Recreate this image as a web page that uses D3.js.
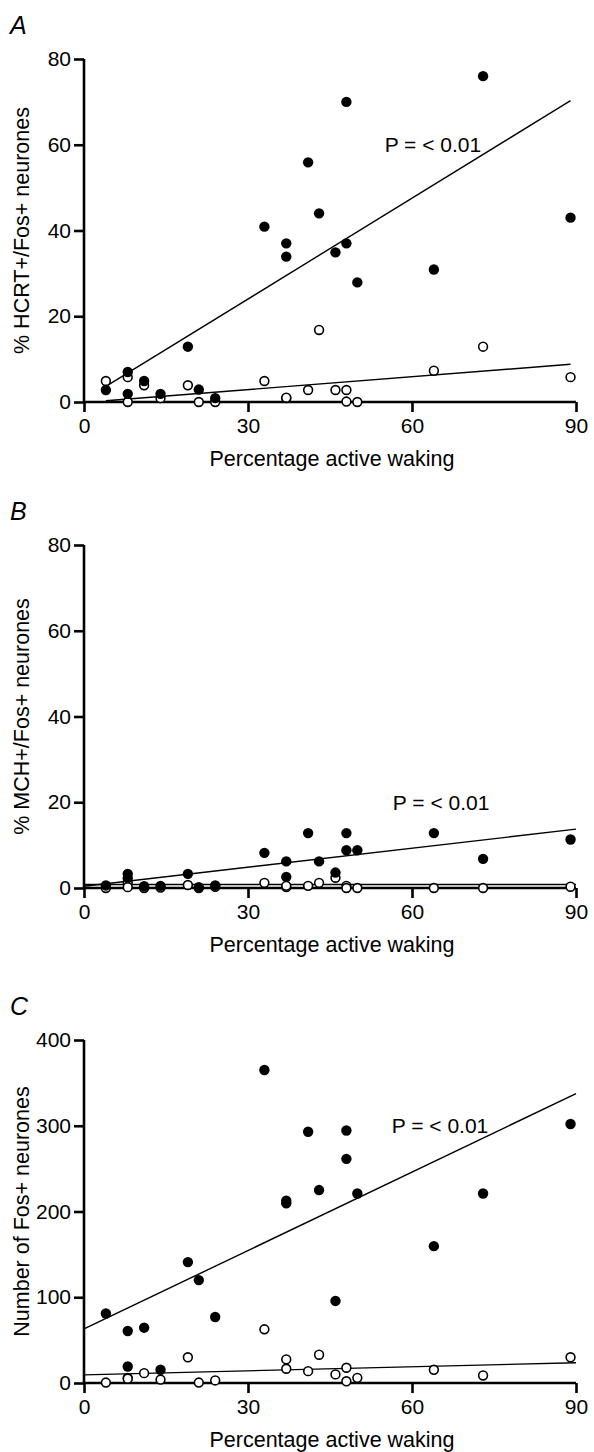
<!DOCTYPE html>
<html>
<head>
<meta charset="utf-8">
<script src="https://cdn.jsdelivr.net/npm/d3@7"></script>
<style>
    body { margin: 0; background: #fff; }
    text { font-family: "Liberation Sans", Arial, sans-serif; fill: #000; }
    .axis path, .axis line { stroke: #000; stroke-width: 2.6px; }
</style>
</head>
<body>
<div class="graph_container"></div>
<script>
//^ DATA //
const wakePct = [4, 8, 8, 11, 14, 19, 21, 24, 33, 37, 37, 41, 43, 46, 48, 48, 50, 64, 73, 89];

const hcrtFilled = [2.8, 7, 1.9, 4.9, 1.9, 12.9, 2.9, 0.9, 40.9, 37, 33.9, 55.9, 44, 34.9, 70, 37, 27.9, 30.9, 76, 43];
const hcrtOpen = [4.9, 5.8, 0, 3.9, 0.9, 3.9, 0, 0, 4.9, 0.9, 1, 2.8, 16.8, 2.8, 2.8, 0.1, 0, 7.3, 12.9, 5.8];

const mchFilled = [0.6, 3.3, 2.3, 0.4, 0.5, 3.3, 0.2, 0.6, 8.2, 6.2, 2.6, 12.8, 6.2, 3.6, 12.8, 8.8, 8.8, 12.8, 6.8, 11.3];
const mchOpen = [0, 1.2, 0.2, 0, 0.1, 0.7, 0, 0.3, 1.2, 0.2, 0.5, 0.5, 1.2, 2.4, 0.5, 0, 0, 0, 0, 0.3];

const fosFilled = [81, 60.6, 19.3, 64.5, 15.4, 141, 120, 77, 365, 212.6, 209.5, 293, 225, 95.7, 294.5, 261.4, 221, 159.6, 221, 302];
const fosOpen = [0.5, 6, 5, 11.5, 4, 30, 0.5, 3, 62.6, 27.5, 16.6, 13.8, 33, 10, 17.8, 2, 6, 15.4, 8.8, 30];

// regression lines: [intercept, slope] and x span
const fitHcrtFilled = [0.5, 0.784];
const fitHcrtOpen = [-0.1, 0.1];
const fitMchFilled = [0.4, 0.148];
const fitMchOpen = [0.8, 0];
const fitFosFilled = [63, 3.05];
const fitFosOpen = [9.5, 0.157];
const spanA = [4, 89];
const spanBC = [0, 90];

//^ TICKS AND LABELS //
const xTicks = [0, 30, 60, 90];
const pctTicks = [0, 20, 40, 60, 80];
const countTicks = [0, 100, 200, 300, 400];
const panelLetters = ["A", "B", "C"];
const yTitles = ["% HCRT+/Fos+ neurones", "% MCH+/Fos+ neurones", "Number of Fos+ neurones"];
const xTitle = "Percentage active waking";
const pLabel = "P = < 0.01";
const pLabelAt = [[55, 58.3], [56.5, 18.1], [56.3, 291.5]];

//^ DIMENSIONS //
const fullWidth = 594;
const fullHeight = 1452;
const marginLeft = 84;
const plotWidth = 492;
const plotHeight = 343;
const panelTops = [59, 545, 1040];

const svg = d3.select(".graph_container")
    .append("svg")
    .attr("width", fullWidth)
    .attr("height", fullHeight);

const panels = [
    { filled: hcrtFilled, open: hcrtOpen, fits: [fitHcrtFilled, fitHcrtOpen], span: spanA, yMax: 80, yTicks: pctTicks },
    { filled: mchFilled, open: mchOpen, fits: [fitMchFilled, fitMchOpen], span: spanBC, yMax: 80, yTicks: pctTicks },
    { filled: fosFilled, open: fosOpen, fits: [fitFosFilled, fitFosOpen], span: spanBC, yMax: 400, yTicks: countTicks }
];

panels.forEach((p, i) => {
    const g = svg.append("g").attr("transform", "translate(" + marginLeft + "," + panelTops[i] + ")");

    const xScale = d3.scaleLinear().domain([0, 90]).range([0, plotWidth]);
    const yScale = d3.scaleLinear().domain([0, p.yMax]).range([plotHeight, 0]);

    //^ AXES //
    g.append("g")
        .attr("class", "axis")
        .attr("transform", "translate(0," + plotHeight + ")")
        .call(d3.axisBottom(xScale).tickValues(xTicks).tickSize(10).tickSizeOuter(0).tickPadding(6))
        .call((a) => a.select(".domain").attr("d", "M0,0H" + plotWidth));

    g.append("g")
        .attr("class", "axis")
        .call(d3.axisLeft(yScale).tickValues(p.yTicks).tickSize(10).tickSizeOuter(0).tickPadding(3))
        .call((a) => a.select(".domain").attr("d", "M0," + plotHeight + "V0"));

    g.selectAll(".axis text").attr("fill", "#000").style("font-size", "21px");

    //^ TITLES //
    g.append("text")
        .attr("x", -74)
        .attr("y", -25)
        .style("font-size", "25px")
        .style("font-style", "italic")
        .text(panelLetters[i]);

    g.append("text")
        .attr("transform", "rotate(-90)")
        .attr("x", -plotHeight / 2)
        .attr("y", -55)
        .attr("text-anchor", "middle")
        .style("font-size", "21.5px")
        .text(yTitles[i]);

    g.append("text")
        .attr("x", plotWidth / 2 + 2)
        .attr("y", plotHeight + 64)
        .attr("text-anchor", "middle")
        .style("font-size", "21.5px")
        .text(xTitle);

    g.append("text")
        .attr("x", xScale(pLabelAt[i][0]))
        .attr("y", yScale(pLabelAt[i][1]))
        .style("font-size", "21px")
        .text(pLabel);

    //^ REGRESSION LINES //
    p.fits.forEach((f) => {
        g.append("line")
            .attr("x1", xScale(p.span[0]))
            .attr("x2", xScale(p.span[1]))
            .attr("y1", yScale(f[0] + f[1] * p.span[0]))
            .attr("y2", yScale(f[0] + f[1] * p.span[1]))
            .attr("stroke", "#000")
            .attr("stroke-width", 1.4);
    });

    //^ POINTS //
    g.selectAll(".dot-open")
        .data(p.open)
        .enter()
        .append("circle")
        .attr("class", "dot-open")
        .attr("r", 4.4)
        .attr("cx", (d, j) => xScale(wakePct[j]))
        .attr("cy", (d) => yScale(d))
        .attr("fill", "#fff")
        .attr("stroke", "#000")
        .attr("stroke-width", 1.6);

    g.selectAll(".dot-filled")
        .data(p.filled)
        .enter()
        .append("circle")
        .attr("class", "dot-filled")
        .attr("r", 5.2)
        .attr("cx", (d, j) => xScale(wakePct[j]))
        .attr("cy", (d) => yScale(d))
        .attr("fill", "#000");
});
</script>
</body>
</html>
